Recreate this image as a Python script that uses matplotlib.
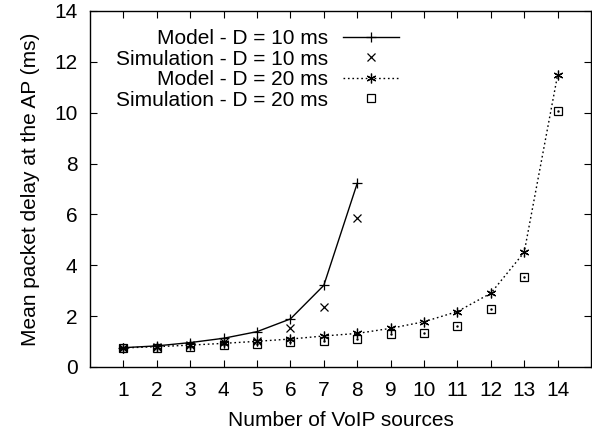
import matplotlib
matplotlib.use("Agg")
import matplotlib.pyplot as plt
import numpy as np

plt.rcParams['font.family'] = ['Liberation Sans', 'DejaVu Sans']

sources_10 = [1, 2, 3, 4, 5, 6, 7, 8]
model_10 = [0.76, 0.83, 0.96, 1.13, 1.39, 1.89, 3.21, 7.22]
sim_10 = [0.75, 0.80, 0.88, 0.97, 1.04, 1.55, 2.37, 5.85]

sources_20 = [1, 2, 3, 4, 5, 6, 7, 8, 9, 10, 11, 12, 13, 14]
model_20 = [0.75, 0.80, 0.86, 0.93, 1.01, 1.10, 1.22, 1.32, 1.52, 1.78, 2.18, 2.90, 4.51, 11.48]
sim_20 = [0.73, 0.76, 0.80, 0.85, 0.90, 0.98, 1.04, 1.09, 1.30, 1.35, 1.61, 2.27, 3.54, 10.05]

xticks = list(range(1, 15))
yticks = [0, 2, 4, 6, 8, 10, 12, 14]

fig = plt.figure(figsize=(5.92, 4.32), dpi=100)
ax = fig.add_axes([90 / 592, 1 - 367 / 432, (591 - 90) / 592, (367 - 11) / 432])

fs = 15
ax.plot(sources_10, model_10, color='black', lw=1.0, marker='+', ms=7, mew=0.9,
        label='Model - D = 10 ms')
ax.plot(sources_10, sim_10, color='black', lw=0, marker='x', ms=5.5, mew=0.9,
        label='Simulation - D = 10 ms')
ax.plot(sources_20, model_20, color='black', lw=1.0, ls=(0, (1.2, 2)), marker=(6, 2, 0),
        ms=7, mew=0.9, label='Model - D = 20 ms')
ax.plot(sources_20, sim_20, color='black', lw=0, marker='s', ms=6, mfc='none', mew=0.9,
        label='Simulation - D = 20 ms')
ax.plot(sources_20, sim_20, color='black', lw=0, marker='.', ms=1.5)

ax.set_xlim(0, 15)
ax.set_ylim(0, 14)
ax.set_xticks(xticks)
ax.set_yticks(yticks)
ax.tick_params(direction='in', length=5, width=0.8, top=True, right=True,
               labelsize=fs)
ax.tick_params(axis='x', pad=10)
ax.tick_params(axis='y', pad=9)
for s in ax.spines.values():
    s.set_linewidth(1.0)

ax.set_xlabel('Number of VoIP sources', fontsize=fs, labelpad=8)
ax.set_ylabel('Mean packet delay at the AP (ms)', fontsize=fs, labelpad=10)

ax.legend(loc='upper left', bbox_to_anchor=(0.022, 0.99), frameon=False,
          markerfirst=False, fontsize=fs, handlelength=2.7, handletextpad=0.72,
          labelspacing=0.07, borderpad=0.2)

fig.savefig('out.png', dpi=100)
